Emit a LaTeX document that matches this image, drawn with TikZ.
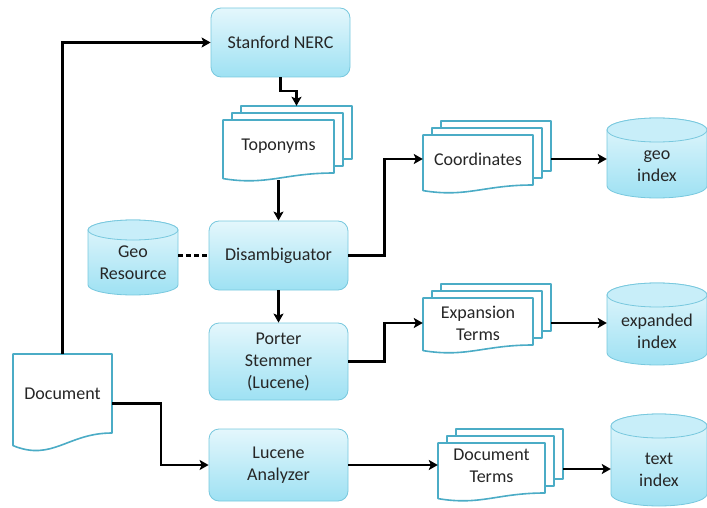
\documentclass[tikz,border=0pt]{standalone}
\usepackage{fontspec}
\setmainfont{Carlito}
\usetikzlibrary{arrows.meta}

\definecolor{boxtop}{RGB}{228,247,252}
\definecolor{boxbot}{RGB}{158,225,243}
\definecolor{boxline}{RGB}{120,200,222}
\definecolor{cyltop}{RGB}{200,238,249}
\definecolor{docline}{RGB}{75,172,198}
\definecolor{txt}{RGB}{38,38,38}

\tikzset{
  label font/.style={font=\fontsize{18}{22}\selectfont, text=txt, align=center},
  proc/.style={rectangle, rounded corners=10pt, draw=boxline, line width=0.8pt,
    top color=boxtop, bottom color=boxbot, minimum width=139pt, label font},
  page/.style={draw=docline, fill=white, line width=1.6pt, line join=round},
  cyl/.style={draw=boxline, line width=0.8pt, top color=boxtop, bottom color=boxbot},
  holder/.style={rectangle, draw=none, inner sep=0pt, label font},
  flow/.style={line width=2.2pt, -{Stealth[length=9pt,width=10pt,inset=2pt]}},
  link/.style={line width=2.2pt, dashed, dash pattern=on 5pt off 3pt}
}

% page with a wavy lower edge: left, top, right, bottom of right edge, wave depth
\newcommand{\frontpage}[5]{%
  \path[page] (#1,-#2) -- (#3,-#2) -- (#3,-#4)
    .. controls ({#1+0.55*(#3-#1)},-#4) and ({#1+0.4*(#3-#1)},{-#4-1.6*#5}) ..
    (#1,{-#4-0.7*#5}) -- cycle;}
% stack of three pages
\newcommand{\docstack}[4]{%
  \path[page] ({#1+18},{-#2+14}) rectangle ({#3+18},{-#4+14});
  \path[page] ({#1+9},{-#2+7}) rectangle ({#3+9},{-#4+7});
  \frontpage{#1}{#2}{#3}{#4}{8}}
% database drum: centre x, top, bottom, x radius, y radius
\newcommand{\drum}[5]{%
  \path[cyl] ({#1-#4},{-#2-#5}) -- ({#1-#4},{-#3+#5})
    arc[start angle=180, end angle=360, x radius=#4, y radius=#5]
    -- ({#1+#4},{-#2-#5})
    arc[start angle=0, end angle=180, x radius=#4, y radius=#5] -- cycle;
  \path[draw=boxline, line width=0.8pt, fill=cyltop] (#1,{-#2-#5}) ellipse [x radius=#4, y radius=#5];}

\begin{document}
\begin{tikzpicture}[x=1pt,y=1pt]
    \useasboundingbox (0,0) rectangle (707,-508);

    % processing steps
    \node[proc, minimum height=69pt] (nerc) at (280.5,-42.5) {Stanford NERC};
    \node[proc, minimum height=69pt] (dis) at (278.5,-255.5) {Disambiguator};
    \node[proc, minimum height=77pt] (porter) at (278.5,-361.5) {Porter\\Stemmer\\(Lucene)};
    \node[proc, minimum height=72pt] (luc) at (278.5,-465) {Lucene\\Analyzer};

    % documents
    \frontpage{13}{354}{112}{433}{18}
    \node[holder, minimum width=99pt, minimum height=79pt] (doc) at (62.5,-393.5) {Document};
    \docstack{223}{120}{334}{173}
    \node[holder, minimum width=111pt, minimum height=53pt] (topo) at (278.5,-146.5) {Toponyms};
    \docstack{423}{135}{533}{185}
    \node[holder, minimum width=110pt, minimum height=50pt] (coord) at (478,-159) {Coordinates};
    \docstack{423}{298}{533}{345}
    \node[holder, minimum width=110pt, minimum height=47pt] (exp) at (478,-323) {Expansion\\Terms};
    \docstack{438}{443}{545}{493}
    \node[holder, minimum width=107pt, minimum height=50pt] (dterms) at (491.5,-466) {Document\\Terms};

    % stores
    \drum{133}{220}{295}{45}{10}
    \node[holder, minimum width=90pt, minimum height=50pt] (geo) at (133,-263) {Geo\\Resource};
    \drum{657}{118}{198}{50}{12}
    \node[holder, minimum width=100pt, minimum height=56pt] (gidx) at (657,-166) {geo\\index};
    \drum{657}{283}{365}{50}{12}
    \node[holder, minimum width=100pt, minimum height=58pt] (eidx) at (657,-331) {expanded\\index};
    \drum{659}{414}{506}{48}{12}
    \node[holder, minimum width=96pt, minimum height=68pt] (tidx) at (659,-470) {text\\index};

    % connectors
    \draw[flow] (doc.north) |- (nerc.west);
    \draw[flow] (nerc.south) -- ++(0,-14) -| ([xshift=18pt,yshift=14pt]topo.north);
    \draw[flow] ([yshift=-7pt]topo.south) -- (dis.north);
    \draw[link] (geo.east |- dis.west) -- (dis.west);
    \draw[flow] (dis.east) -- ++(36,0) |- (coord.west);
    \draw[flow] ([xshift=18pt]coord.east) -- (coord.east -| gidx.west);
    \draw[flow] (dis.south) -- (porter.north);
    \draw[flow] (porter.east) -- ++(36,0) |- (exp.west);
    \draw[flow] ([xshift=18pt]exp.east) -- (exp.east -| eidx.west);
    \draw[flow] ([yshift=-10pt]doc.east) -- ++(49,0) |- (luc.west);
    \draw[flow] (luc.east) -- (luc.east -| dterms.west);
    \draw[flow] ([xshift=18pt,yshift=-3pt]dterms.east) -- ([yshift=-3pt]dterms.east -| tidx.west);
\end{tikzpicture}
\end{document}
